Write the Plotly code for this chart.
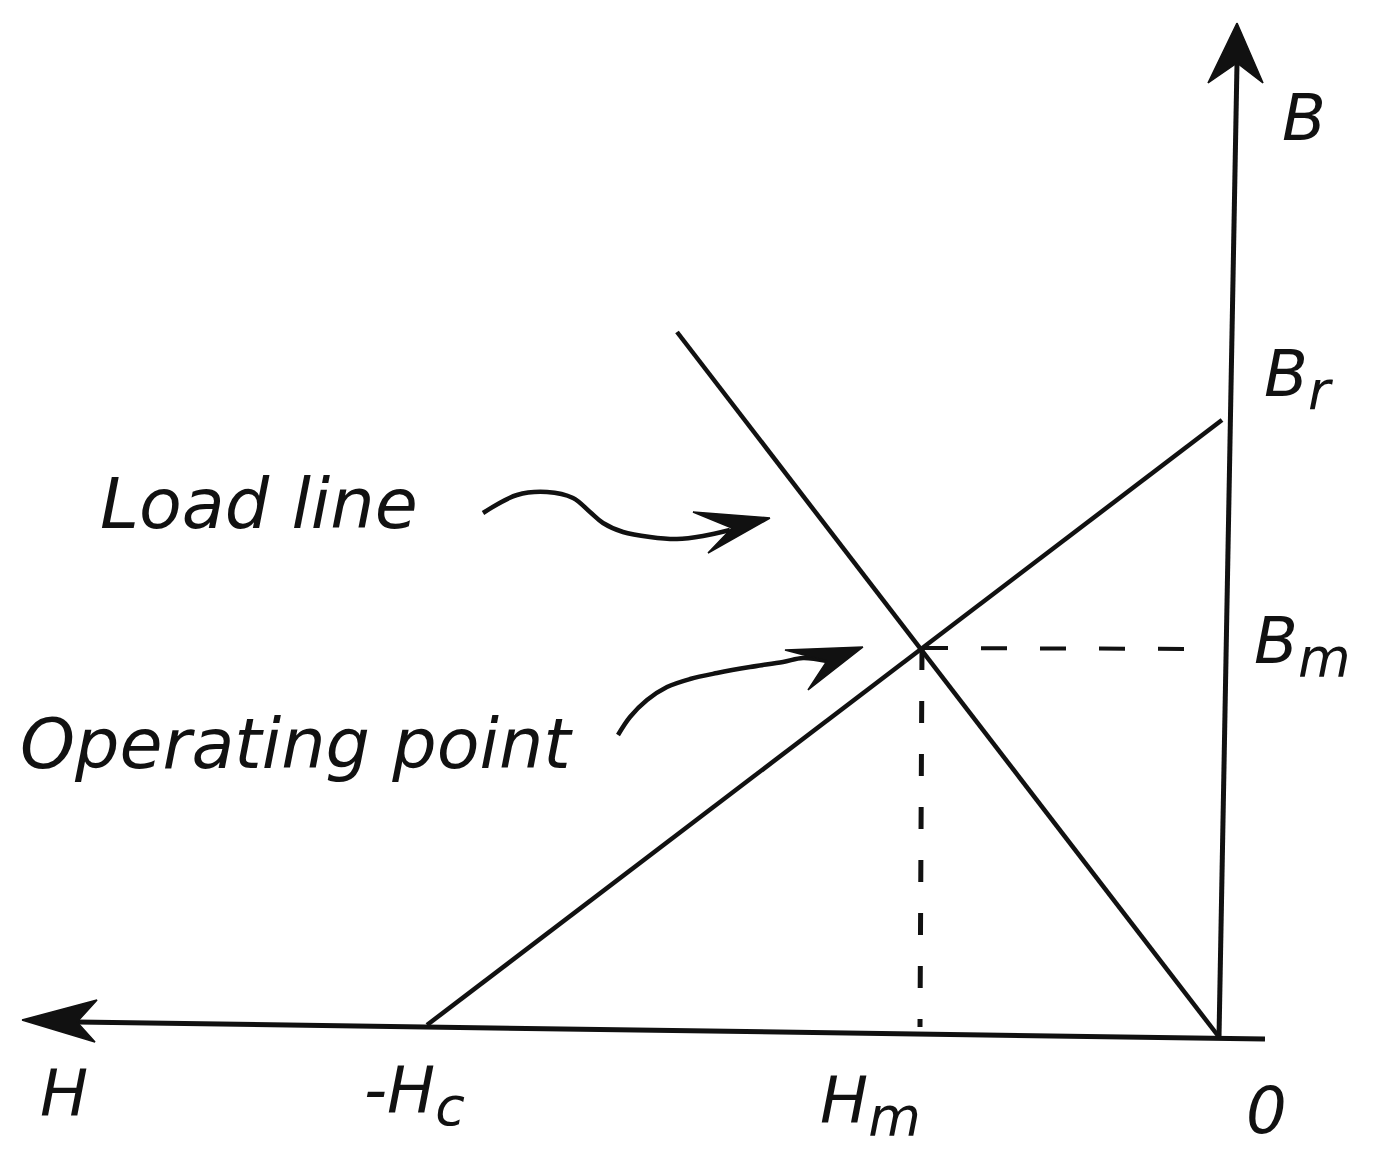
import plotly.graph_objects as go

# ---------------- data (diagram units; origin = 0, H grows to the right) ----------------
# axes (slightly tilted as in the scanned drawing)
h_axis_x = [46, -1142]
h_axis_y = [-2, 15]
b_axis_x = [0, 18]
b_axis_y = [0, 974]

# key quantities
H_c = -792          # coercive force (demag line meets H axis)
B_r = 617           # remanence (demag line meets B axis)
H_m = -297          # operating point H
B_m = 389           # operating point B

# demagnetisation characteristic
demag_H = [H_c, 3]
demag_B = [12, B_r]

# load line (through origin)
load_H = [-542, 0]
load_B = [705, 0]

# dashed projection lines of the operating point
proj_h_H = [H_m, -5]
proj_h_B = [B_m, 388]
proj_v_H = [H_m, -299]
proj_v_B = [B_m, 10]

# hand-drawn pointer curves
load_ptr_H = [-736, -702, -672, -646, -629, -616, -596, -569, -542, -516, -489]
load_ptr_B = [524, 542, 545, 539, 525, 514, 505, 500, 498, 501, 507]
op_ptr_H = [-601, -589, -572, -552, -529, -502, -469, -436, -416, -392]
op_ptr_B = [302, 320, 337, 350, 358, 364, 370, 375, 379, 376]

# arrow heads: tip, barb, notch, barb
head_H_axis = ([-1197, -1122, -1142, -1124], [17, 37, 15, -5])
head_B_axis = ([18, -11, 18, 44], [1014, 954, 974, 954])
head_load = ([-449, -526, -487, -511], [519, 525, 509, 484])
head_op = ([-356, -434, -392, -411], [390, 387, 376, 347])

SUB = "<sub><span style='font-size:54px'>{}</span></sub>"

# labels: text, left x, vertical centre, font size
labels = [
    ("B", 61, 919, 64),
    ("B" + SUB.format("r"), 43, 658, 64),
    ("B" + SUB.format("m"), 33, 391, 64),
    ("H", -1181, -56, 64),
    ("-H" + SUB.format("c"), -857, -58, 64),
    ("H" + SUB.format("m"), -401, -68, 64),
    ("0", 25, -74, 64),
    ("Load line", -1121, 533, 70),
    ("Operating point", -1201, 293, 70),
]

# ---------------- figure ----------------
INK = "#111111"
fig = go.Figure()


def line(xs, ys, width=4.5, dash=None, shape="linear"):
    fig.add_trace(go.Scatter(x=xs, y=ys, mode="lines",
                             line=dict(color=INK, width=width, dash=dash, shape=shape),
                             hoverinfo="skip", showlegend=False))


def head(pts):
    xs, ys = pts
    fig.add_trace(go.Scatter(x=list(xs) + [xs[0]], y=list(ys) + [ys[0]], mode="lines",
                             fill="toself", fillcolor=INK,
                             line=dict(color=INK, width=1.5),
                             hoverinfo="skip", showlegend=False))


line(h_axis_x, h_axis_y, width=5)
line(b_axis_x, b_axis_y, width=5)
line(demag_H, demag_B, width=4.5)
line(load_H, load_B, width=4.5)
line(proj_h_H, proj_h_B, width=4, dash="26px,33px")
line(proj_v_H, proj_v_B, width=5, dash="22px,31px")
line(load_ptr_H, load_ptr_B, width=4.5, shape="spline")
line(op_ptr_H, op_ptr_B, width=4.5, shape="spline")
for h in (head_H_axis, head_B_axis, head_load, head_op):
    head(h)

for text, x, y, size in labels:
    fig.add_annotation(x=x, y=y, text=text, showarrow=False,
                       xanchor="left", yanchor="middle",
                       font=dict(family="DejaVu Sans", size=size, color=INK, style="italic"))

# ranges compensate for the 8px default page margin of the HTML body
fig.update_layout(
    width=1379, height=1161,
    margin=dict(l=0, r=0, t=0, b=0),
    paper_bgcolor="white", plot_bgcolor="white",
    xaxis=dict(range=[-1211, 168], visible=False, fixedrange=True),
    yaxis=dict(range=[-132, 1029], visible=False, fixedrange=True),
    showlegend=False,
)

fig.write_html("out.html")
